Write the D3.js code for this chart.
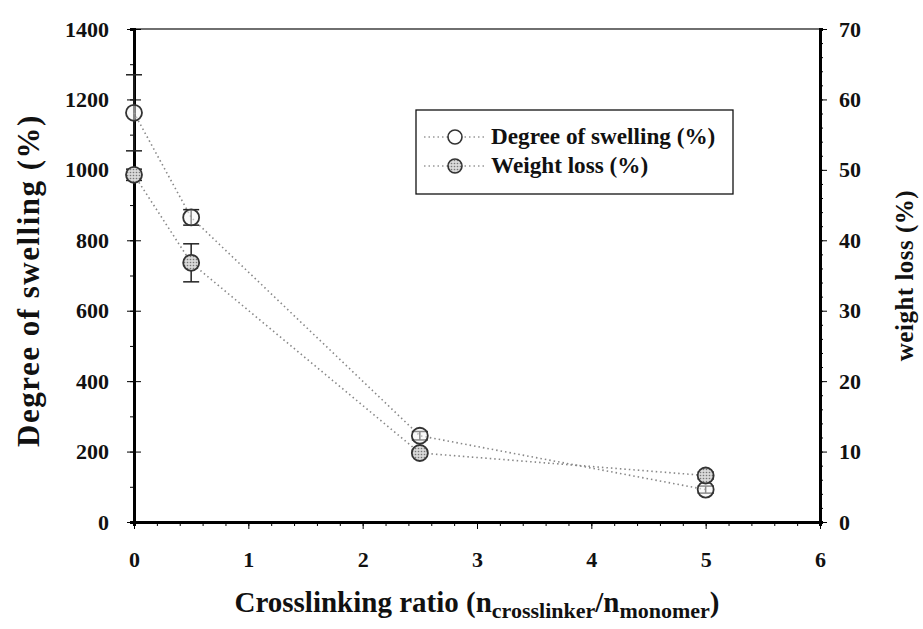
<!DOCTYPE html>
<html>
<head>
<meta charset="utf-8">
<script src="https://cdn.jsdelivr.net/npm/d3@7"></script>
<style>
  html, body { margin: 0; padding: 0; background: #fff; }
  svg { display: block; }
  text { font-family: "Liberation Serif", "Times New Roman", serif; font-weight: bold; fill: #111; }
</style>
</head>
<body>
<svg id="chart" width="923" height="629"></svg>
<script>
// Crosslinking ratio (x) and the two measured series
const ratios = [0, 0.5, 2.5, 5];
const swelling = [1162, 865, 245, 92];       // degree of swelling (%), left axis
const swellingErr = [108, 22, 12, 10];
const weightLoss = [49.3, 36.8, 9.8, 6.6];   // weight loss (%), right axis
const weightLossErr = [0.8, 2.7, 0.5, 0.5];

const xTicks = [0, 1, 2, 3, 4, 5, 6];
const yLeftTicks = [0, 200, 400, 600, 800, 1000, 1200, 1400];
const yRightTicks = [0, 10, 20, 30, 40, 50, 60, 70];
const seriesNames = ["Degree of swelling (%)", "Weight loss (%)"];

const svg = d3.select("#chart");
const plotL = 134, plotR = 820, plotT = 29, plotB = 522;

const x = d3.scaleLinear().domain([0, 6]).range([plotL, plotR]);
const yL = d3.scaleLinear().domain([0, 1400]).range([plotB, plotT]);
const yR = d3.scaleLinear().domain([0, 70]).range([plotB, plotT]);

// marker fills
const defs = svg.append("defs");
const pat = defs.append("pattern").attr("id", "dots").attr("width", 3).attr("height", 3)
  .attr("patternUnits", "userSpaceOnUse");
pat.append("rect").attr("width", 3).attr("height", 3).attr("fill", "#d8d8d8");
pat.append("circle").attr("cx", 1.5).attr("cy", 1.5).attr("r", 0.8).attr("fill", "#777");

// frame
svg.append("rect").attr("x", plotL).attr("y", plotT).attr("width", plotR - plotL).attr("height", plotB - plotT)
  .attr("fill", "none").attr("stroke", "#111").attr("stroke-width", 1.2);

function styleLabels(g) {
  g.selectAll("text").attr("font-size", 22).attr("font-family", "Liberation Serif")
    .attr("font-weight", "bold").attr("fill", "#111");
}

// bottom axis
const xMinor = svg.append("g").attr("transform", `translate(0,${plotB})`)
  .call(d3.axisBottom(x).tickValues(d3.range(0, 6.01, 0.2)).tickSize(4).tickFormat(""));
xMinor.select(".domain").attr("stroke-width", 3);
const xMajor = svg.append("g").attr("transform", `translate(0,${plotB})`)
  .call(d3.axisBottom(x).tickValues(xTicks).tickSize(7).tickPadding(22).tickFormat(d3.format("d")));
xMajor.select(".domain").remove();
styleLabels(xMajor);

// left axis
const yMinor = svg.append("g").attr("transform", `translate(${plotL},0)`)
  .call(d3.axisLeft(yL).tickValues(d3.range(0, 1401, 100)).tickSize(4).tickFormat(""));
yMinor.select(".domain").attr("stroke-width", 3);
const yMajor = svg.append("g").attr("transform", `translate(${plotL},0)`)
  .call(d3.axisLeft(yL).tickValues(yLeftTicks).tickSize(7).tickPadding(18).tickFormat(d3.format("d")));
yMajor.select(".domain").remove();
yMajor.selectAll(".tick line").attr("x2", -7).attr("x1", 7);
styleLabels(yMajor);

// right axis
const rMinor = svg.append("g").attr("transform", `translate(${plotR},0)`)
  .call(d3.axisRight(yR).tickValues(d3.range(0, 70.01, 2)).tickSize(3).tickFormat(""));
rMinor.select(".domain").attr("stroke-width", 3);
const rMajor = svg.append("g").attr("transform", `translate(${plotR},0)`)
  .call(d3.axisRight(yR).tickValues(yRightTicks).tickSize(7).tickPadding(12).tickFormat(d3.format("d")));
rMajor.select(".domain").remove();
styleLabels(rMajor);

// connecting dotted lines
const lineL = d3.line().x((d, i) => x(ratios[i])).y(d => yL(d));
const lineR = d3.line().x((d, i) => x(ratios[i])).y(d => yR(d));
svg.append("path").attr("d", lineL(swelling)).attr("fill", "none")
  .attr("stroke", "#888").attr("stroke-width", 1.6).attr("stroke-dasharray", "1.5,3");
svg.append("path").attr("d", lineR(weightLoss)).attr("fill", "none")
  .attr("stroke", "#888").attr("stroke-width", 1.6).attr("stroke-dasharray", "1.5,3");

// error bars
function errorBars(vals, errs, scale) {
  const g = svg.append("g").attr("stroke", "#222").attr("stroke-width", 1.5);
  vals.forEach((v, i) => {
    const cx = x(ratios[i]);
    g.append("line").attr("x1", cx).attr("x2", cx).attr("y1", scale(v - errs[i])).attr("y2", scale(v + errs[i]));
    [v - errs[i], v + errs[i]].forEach(e => {
      g.append("line").attr("x1", cx - 8).attr("x2", cx + 8).attr("y1", scale(e)).attr("y2", scale(e));
    });
  });
}
errorBars(swelling, swellingErr, yL);
errorBars(weightLoss, weightLossErr, yR);

// markers
svg.append("g").selectAll("circle").data(swelling).join("circle")
  .attr("cx", (d, i) => x(ratios[i])).attr("cy", d => yL(d)).attr("r", 8)
  .attr("fill", "#f4f4f4").attr("fill-opacity", 0.5).attr("stroke", "#333").attr("stroke-width", 1.8);
svg.append("g").selectAll("circle").data(weightLoss).join("circle")
  .attr("cx", (d, i) => x(ratios[i])).attr("cy", d => yR(d)).attr("r", 8)
  .attr("fill", "url(#dots)").attr("stroke", "#333").attr("stroke-width", 1.8);

// legend
const lg = svg.append("g");
lg.append("rect").attr("x", 416).attr("y", 110).attr("width", 317).attr("height", 84)
  .attr("fill", "#fff").attr("stroke", "#111").attr("stroke-width", 1.3);
seriesNames.forEach((name, i) => {
  const cy = 137 + i * 29;
  lg.append("line").attr("x1", 424).attr("x2", 484).attr("y1", cy).attr("y2", cy)
    .attr("stroke", "#999").attr("stroke-width", 1.5).attr("stroke-dasharray", "1.5,3");
  lg.append("circle").attr("cx", 455).attr("cy", cy).attr("r", 7)
    .attr("fill", i === 0 ? "#fff" : "url(#dots)").attr("stroke", "#333").attr("stroke-width", 1.6);
  lg.append("text").attr("x", 491).attr("y", cy + 7).attr("font-size", 23.2).text(name);
});

// axis titles
svg.append("text").attr("transform", `translate(39,${(plotT + plotB) / 2 + 5}) rotate(-90)`)
  .attr("text-anchor", "middle").attr("font-size", 31).attr("letter-spacing", 1.5)
  .text("Degree of swelling (%)");
svg.append("text").attr("transform", `translate(913,${(plotT + plotB) / 2}) rotate(-90)`)
  .attr("text-anchor", "middle").attr("font-size", 25).attr("letter-spacing", 0.5)
  .text("weight loss (%)");
const xt = svg.append("text").attr("x", 477).attr("y", 612).attr("text-anchor", "middle").attr("font-size", 29);
xt.append("tspan").text("Crosslinking ratio (n");
xt.append("tspan").attr("font-size", 22).attr("dy", 6).text("crosslinker");
xt.append("tspan").attr("dy", -6).text("/n");
xt.append("tspan").attr("font-size", 22).attr("dy", 6).text("monomer");
xt.append("tspan").attr("dy", -6).text(")");
</script>
</body>
</html>
